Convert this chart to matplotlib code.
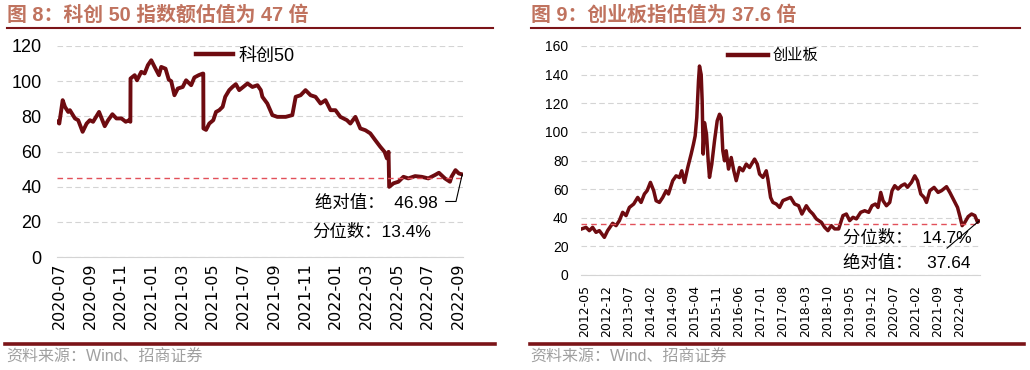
import matplotlib
matplotlib.use("Agg")
import matplotlib.pyplot as plt
from matplotlib.lines import Line2D

plt.rcParams["font.family"] = ["Liberation Sans", "Noto Sans CJK SC", "DejaVu Sans"]

# 科创50 PE, x = months since 2020-07
kc_t = [-0.13, 0.0, 0.22, 0.37, 0.58, 0.69, 1.02, 1.23, 1.52, 1.78,
        1.99, 2.20, 2.59, 2.96, 3.18, 3.46, 3.72, 4.05, 4.33, 4.54,
        4.63, 4.64, 4.91, 5.06, 5.34, 5.56, 5.77, 5.99, 6.21, 6.49,
        6.64, 6.92, 7.13, 7.29, 7.50, 7.72, 8.04, 8.26, 8.59, 8.80,
        9.08, 9.34, 9.38, 9.39, 9.56, 9.77, 10.03, 10.21, 10.42, 10.64,
        10.81, 11.07, 11.28, 11.50, 11.72, 11.98, 12.26, 12.58, 12.91, 13.13,
        13.23, 13.55, 13.88, 14.20, 14.75, 15.18, 15.40, 15.72, 16.04, 16.37,
        16.69, 17.02, 17.34, 17.67, 17.99, 18.31, 18.74, 18.96, 19.29, 19.61,
        19.94, 20.26, 20.58, 20.91, 21.19, 21.34, 21.45, 21.49, 21.77, 22.09,
        22.42, 22.74, 23.18, 23.61, 24.04, 24.47, 24.73, 25.12, 25.45, 25.55,
        25.81, 26.03, 26.25]
kc_pe = [76.9, 75.9, 89.2, 85.4, 82.5, 83.5, 78.8, 77.8, 71.2, 75.9,
         77.8, 76.9, 82.5, 74.4, 77.8, 81.2, 78.8, 78.8, 76.9, 77.8,
         76.9, 101.5, 103.4, 100.5, 105.3, 104.4, 109.1, 111.9, 108.1, 103.4,
         108.1, 107.1, 100.9, 100.0, 92.0, 95.8, 96.7, 100.5, 97.7, 102.1,
         103.4, 104.3, 104.3, 73.1, 72.3, 75.9, 77.8, 82.5, 83.5, 85.4,
         91.1, 94.9, 96.7, 98.3, 94.9, 96.7, 98.7, 96.7, 97.7, 94.9,
         91.1, 87.3, 80.7, 79.7, 79.7, 80.7, 91.1, 92.0, 94.9, 92.0,
         91.1, 87.3, 89.2, 83.5, 83.5, 79.7, 77.8, 75.9, 79.7, 73.1,
         72.1, 70.3, 66.5, 62.7, 59.8, 56.1, 59.8, 39.9, 41.9, 42.8,
         45.6, 44.7, 46.0, 45.6, 44.7, 46.6, 47.9, 44.7, 42.8, 45.6,
         49.4, 47.5, 46.98]
kc_labels = ["2020-07", "2020-09", "2020-11", "2021-01", "2021-03", "2021-05", "2021-07",
             "2021-09", "2021-11", "2022-01", "2022-03", "2022-05", "2022-07", "2022-09"]
kc_ref = 44.7

# 创业板指 PE, x = months since 2012-05
cy_t = [-0.86, 0.54, 1.59, 2.63, 3.71, 4.76, 6.35, 7.39, 8.98, 10.06,
        11.11, 12.15, 13.23, 14.28, 15.65, 16.92, 17.99, 19.04, 19.90, 20.95,
        21.99, 22.75, 23.80, 24.85, 25.93, 26.66, 28.02, 29.10, 30.15, 30.88,
        31.74, 32.78, 33.86, 34.59, 35.13, 35.64, 36.18, 36.50, 37.04, 37.35,
        37.67, 38.08, 38.72, 39.26, 39.67, 40.40, 41.26, 42.11, 42.84, 43.38,
        43.89, 44.43, 44.97, 45.70, 46.56, 47.38, 48.14, 49.19, 50.24, 51.32,
        52.36, 53.95, 54.81, 55.54, 56.59, 57.66, 58.17, 59.03, 59.76, 60.84,
        61.88, 62.93, 64.01, 65.38, 66.65, 67.91, 68.96, 70.36, 71.41, 72.45,
        73.53, 75.12, 76.17, 77.21, 78.29, 79.34, 80.61, 81.97, 83.05, 84.10,
        85.15, 86.23, 87.59, 88.86, 90.13, 91.18, 92.26, 93.08, 93.94, 94.67,
        95.75, 96.79, 97.52, 98.38, 99.43, 100.51, 101.56, 102.41, 103.68, 104.73,
        105.59, 106.63, 107.68, 108.44, 109.49, 110.85, 112.12, 113.20, 114.79, 115.84,
        117.20, 118.28, 119.11, 119.74, 120.60, 121.65, 122.73, 123.77, 124.63, 125.04]
cy_pe = [32.2, 33.3, 31.0, 33.3, 29.8, 31.0, 26.3, 31.0, 36.1, 34.5,
         38.0, 43.8, 41.5, 47.2, 49.6, 54.2, 50.7, 56.6, 58.9, 64.7,
         58.9, 51.9, 50.7, 54.2, 58.9, 56.6, 65.9, 69.3, 68.1, 72.8,
         64.7, 75.1, 84.5, 91.4, 97.2, 110.0, 135.5, 146.0, 140.0, 121.6,
         84.5, 106.5, 98.4, 79.8, 68.2, 77.5, 93.7, 107.7, 112.3, 110.0,
         86.8, 79.8, 86.8, 74.0, 82.1, 72.8, 65.9, 75.1, 72.8, 77.5,
         75.1, 81.0, 77.5, 70.5, 68.2, 72.8, 67.0, 54.2, 50.7, 49.6,
         47.2, 52.0, 53.0, 54.2, 49.6, 48.4, 42.6, 48.4, 44.9, 42.6,
         39.2, 36.8, 33.3, 31.0, 34.5, 32.2, 32.2, 41.5, 42.6, 38.0,
         40.3, 39.2, 43.8, 44.9, 43.8, 48.4, 49.6, 47.2, 57.7, 51.9,
         48.4, 50.7, 58.9, 62.4, 60.1, 62.4, 63.6, 61.3, 64.7, 69.3,
         65.9, 56.6, 54.2, 50.7, 58.9, 61.2, 57.7, 58.9, 61.7, 57.7,
         51.9, 47.2, 40.3, 34.5, 36.8, 40.8, 42.6, 41.5, 36.8, 37.64]
cy_labels = ["2012-05", "2012-12", "2013-07", "2014-02", "2014-09", "2015-04",
             "2015-11", "2016-06", "2017-01", "2017-08", "2018-03", "2018-10",
             "2019-05", "2019-12", "2020-07", "2021-02", "2021-09", "2022-04"]
cy_ref = 35.4

LINE = "#6E0B10"
RULE = "#7B1418"
TITLE = "#C0735F"
GRID = "#D4D4D4"
REF = "#E2505A"

W, H = 1030, 370
fig = plt.figure(figsize=(W / 100, H / 100), dpi=100)


def fx(px):
    return px / W


def fy(py):
    return 1 - py / H


def style_axes(ax, ylab_size, xlab_size, ypad, xpad):
    for s in ["top", "right", "left"]:
        ax.spines[s].set_visible(False)
    ax.spines["bottom"].set_color(GRID)
    ax.grid(axis="y", color=GRID, linestyle=(0, (5, 3)), linewidth=0.8)
    ax.set_axisbelow(True)
    ax.tick_params(axis="both", length=0)
    ax.tick_params(axis="y", labelsize=ylab_size, pad=ypad)
    ax.tick_params(axis="x", labelsize=xlab_size, pad=xpad)
    for lab in ax.get_xticklabels():
        lab.set_family("DejaVu Sans")
        lab.set_rotation(90)


# ---- left: 科创50
ax1 = fig.add_axes([fx(57), fy(257), fx(406), 211 / H])
ax1.plot(kc_t, kc_pe, color=LINE, lw=2.8, solid_joinstyle="round")
ax1.axhline(kc_ref, color=REF, lw=1, linestyle=(0, (4, 3)))
ax1.set_xlim(-0.15, 26.3)
ax1.set_ylim(0, 120)
ax1.set_yticks(range(0, 121, 20))
ax1.set_xticks(range(0, 27, 2), kc_labels)
style_axes(ax1, 13, 11.5, 11, 4)
ax1.legend(["科创50"], loc="center left", bbox_to_anchor=(fx(196), fy(56)),
           bbox_transform=fig.transFigure, frameon=False, fontsize=13,
           handlelength=2.05, handletextpad=0.3, borderpad=0, borderaxespad=0)
ax1.get_legend().get_lines()[0].set_linewidth(3.2)
ax1.annotate("", xy=(kc_t[-1], kc_pe[-1]), xytext=(-12, -19.5), textcoords="offset points",
             arrowprops=dict(arrowstyle="-", color="black", lw=0.8, shrinkA=0, shrinkB=0,
                             connectionstyle="angle,angleA=0,angleB=77"))
fig.text(fx(315), fy(203), "绝对值：  46.98", fontsize=12.5, va="center")
fig.text(fx(312), fy(232), "分位数：13.4%", fontsize=12.5, va="center")

# ---- right: 创业板指
ax2 = fig.add_axes([fx(581), fy(275), fx(399), 229 / H])
ax2.plot(cy_t, cy_pe, color=LINE, lw=2.5, solid_joinstyle="round")
ax2.axhline(cy_ref, color=REF, lw=1, linestyle=(0, (4, 3)))
ax2.set_xlim(-1.05, 125.4)
ax2.set_ylim(0, 160)
ax2.set_yticks(range(0, 161, 20))
ax2.set_xticks(range(0, 120, 7), cy_labels)
style_axes(ax2, 10, 9, 9, 7)
ax2.legend(["创业板"], loc="center left", bbox_to_anchor=(fx(728), fy(56)),
           bbox_transform=fig.transFigure, frameon=False, fontsize=11,
           handlelength=2.6, handletextpad=0.3, borderpad=0, borderaxespad=0)
ax2.get_legend().get_lines()[0].set_linewidth(3.2)
ax2.annotate("", xy=(cy_t[-1], cy_pe[-1]), xytext=(-23, -19.5), textcoords="offset points",
             arrowprops=dict(arrowstyle="-", color="black", lw=0.8, shrinkA=0, shrinkB=0))
fig.text(fx(843), fy(238), "分位数：  14.7%", fontsize=12.5, va="center")
fig.text(fx(843), fy(263), "绝对值：   37.64", fontsize=12.5, va="center")

# ---- titles, rules, sources
fig.text(fx(7), fy(15), "图 8：科创 50 指数额估值为 47 倍", fontsize=14.3,
         weight="bold", color=TITLE, va="center")
fig.text(fx(531), fy(15), "图 9：创业板指估值为 37.6 倍", fontsize=14.3,
         weight="bold", color=TITLE, va="center")
for x0, x1 in [(7, 493), (531, 1020)]:
    fig.add_artist(Line2D([fx(x0), fx(x1)], [fy(28), fy(28)], color=RULE, lw=1.5))
for x0, x1 in [(5, 495), (530, 1024)]:
    fig.add_artist(Line2D([fx(x0), fx(x1)], [fy(344), fy(344)], color=RULE, lw=2.6))
fig.text(fx(6), fy(357), "资料来源：Wind、招商证券", fontsize=11.5, color="#A0A0A0", va="center")
fig.text(fx(530), fy(357), "资料来源：Wind、招商证券", fontsize=11.5, color="#A0A0A0", va="center")

fig.savefig("out.png", dpi=100)
